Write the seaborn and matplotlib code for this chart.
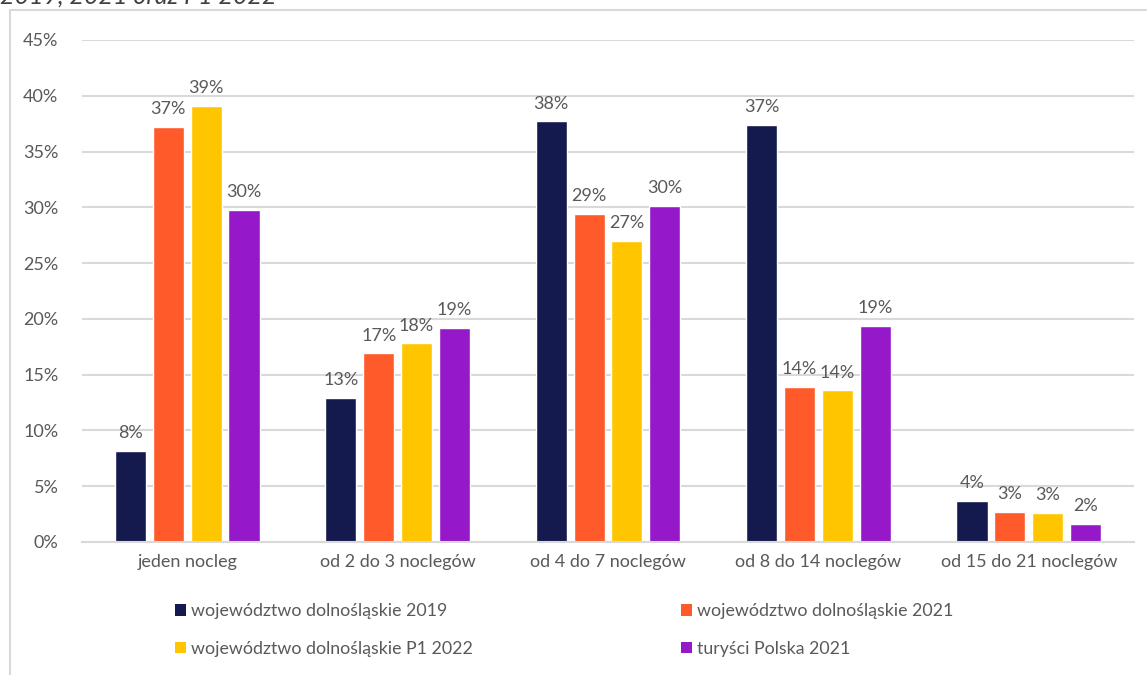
import matplotlib
matplotlib.use("Agg")
import matplotlib.pyplot as plt
from matplotlib.lines import Line2D
from matplotlib.patches import Patch
import seaborn as sns
import pandas as pd

categories = ["jeden nocleg", "od 2 do 3 noclegów", "od 4 do 7 noclegów",
              "od 8 do 14 noclegów", "od 15 do 21 noclegów"]
series = ["województwo dolnośląskie 2019", "województwo dolnośląskie 2021",
          "województwo dolnośląskie P1 2022", "turyści Polska 2021"]
values_2019 = [8.2, 12.9, 37.7, 37.4, 3.7]
values_2021 = [37.2, 16.9, 29.4, 13.9, 2.7]
values_p1_2022 = [39.1, 17.8, 27.0, 13.6, 2.6]
values_pl_2021 = [29.8, 19.2, 30.1, 19.4, 1.6]
colors = ["#141a4e", "#ff5a2a", "#ffc600", "#9519c8"]
yticks = [0, 5, 10, 15, 20, 25, 30, 35, 40, 45]
title_text = "2019, 2021 oraz P1 2022"

rows = []
for name, vals in zip(series, [values_2019, values_2021, values_p1_2022, values_pl_2021]):
    for cat, v in zip(categories, vals):
        rows.append({"kategoria": cat, "seria": name, "udzial": v})
df = pd.DataFrame(rows)

sns.set_theme(style="white")
plt.rcParams["font.family"] = ["Lato", "DejaVu Sans"]
text_color = "#595959"
grid_color = "#d9d9d9"
fs = 13

W, H = 1147, 675
fig = plt.figure(figsize=(W / 100, H / 100), dpi=100)
ax = fig.add_axes([82 / W, 1 - 542 / H, (1134 - 82) / W, (542 - 40) / H])

sns.barplot(data=df, x="kategoria", y="udzial", hue="seria", order=categories,
            hue_order=series, palette=colors, width=0.72, gap=0.18,
            saturation=1, errorbar=None, legend=False, ax=ax)

ax.set_ylim(0, 45)
ax.set_yticks(yticks)
ax.set_yticklabels([f"{t}%" for t in yticks])
ax.set_xlabel("")
ax.set_ylabel("")
ax.yaxis.grid(True, color=grid_color, linewidth=1.5)
ax.set_axisbelow(True)
for s in ["top", "right", "left"]:
    ax.spines[s].set_visible(False)
ax.spines["bottom"].set_color(grid_color)
ax.spines["bottom"].set_linewidth(1.5)
ax.tick_params(axis="both", length=0, labelsize=fs, colors=text_color)
ax.tick_params(axis="y", pad=17)
ax.tick_params(axis="x", pad=9)

for cont in ax.containers:
    ax.bar_label(cont, labels=[f"{v:.0f}%" for v in cont.datavalues],
                 padding=7, fontsize=fs, color=text_color)

# legend: two columns of two entries
def make_legend(names, cols, x_px):
    handles = [Patch(facecolor=c, edgecolor="none") for c in cols]
    leg = fig.legend(handles, names, loc="upper left",
                     bbox_to_anchor=(x_px / W, 1 - 603 / H), frameon=False,
                     fontsize=12.8, labelcolor=text_color, handlelength=0.62,
                     handleheight=0.62, handletextpad=0.3, labelspacing=1.22,
                     borderpad=0, borderaxespad=0)
    return leg

make_legend([series[0], series[2]], [colors[0], colors[2]], 175)
make_legend([series[1], series[3]], [colors[1], colors[3]], 681)

# chart frame
fig.add_artist(Line2D([10 / W, 10 / W], [0, 1 - 10 / H], transform=fig.transFigure,
                      color=grid_color, linewidth=1.5))
fig.add_artist(Line2D([10 / W, 1146 / W], [1 - 10 / H, 1 - 10 / H],
                      transform=fig.transFigure, color=grid_color, linewidth=1.5))

fig.text(0 / W, 1 - 4 / H, title_text, fontsize=18, style="italic",
         color="#404040", va="baseline", ha="left")

fig.savefig("out.png", dpi=100)
